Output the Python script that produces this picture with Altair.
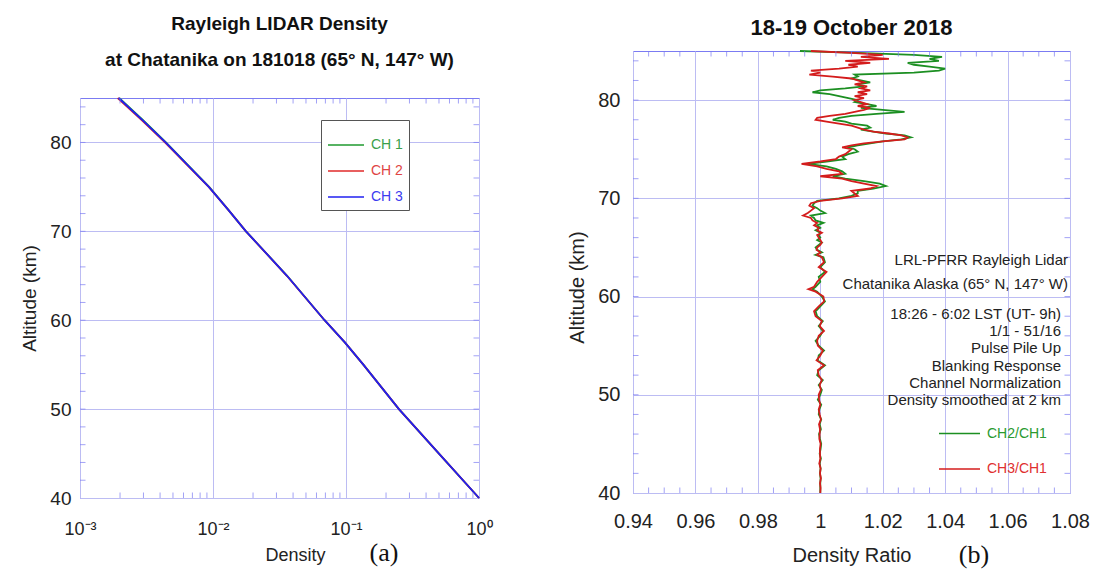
import altair as alt
import pandas as pd

FONT = "Liberation Sans"
FRAME = "#7b7bf2"
GRID = "#bcbcf3"

# ---------------- Panel (a): density profiles ----------------
alt_a = [85, 82.5, 80, 77.5, 75, 72.5, 70, 65, 60, 57.5, 55, 50, 45, 40]
dens_ch1 = [0.00197, 0.00298, 0.00443, 0.00643, 0.00936, 0.0129, 0.0177, 0.0361, 0.0690, 0.0980, 0.135, 0.250, 0.500, 1.0]
dens_ch2 = [0.00192, 0.00291, 0.00435, 0.00635, 0.00928, 0.0129, 0.0177, 0.0359, 0.0690, 0.0980, 0.135, 0.250, 0.500, 1.0]
dens_ch3 = [0.00195, 0.00295, 0.00440, 0.00640, 0.00930, 0.0129, 0.0177, 0.0360, 0.0690, 0.0980, 0.135, 0.250, 0.500, 1.0]
channels_a = ["CH 1", "CH 2", "CH 3"]
line_colors_a = ["#1f9a2f", "#e02a2a", "#2020f0"]
label_colors_a = ["#3b9f4a", "#e04444", "#3c3cf0"]

dens_major = [0.001, 0.01, 0.1, 1]
dens_labels = ["10⁻³", "10⁻²", "10⁻¹", "10⁰"]
dens_minor = [0.002, 0.003, 0.004, 0.005, 0.006, 0.007, 0.008, 0.009,
              0.02, 0.03, 0.04, 0.05, 0.06, 0.07, 0.08, 0.09,
              0.2, 0.3, 0.4, 0.5, 0.6, 0.7, 0.8, 0.9]
alt_major = [40, 50, 60, 70, 80]
alt_minor = [42, 44, 46, 48, 50, 52, 54, 56, 58, 60, 62, 64, 66, 68, 70, 72, 74, 76, 78, 80, 82, 84]

title_a = ["Rayleigh LIDAR Density", "at Chatanika on 181018 (65° N, 147° W)"]
tag_a = "(a)"

# ---------------- Panel (b): density ratios ----------------
alt_b = [85.0, 84.8, 84.6, 84.4, 84.2, 84.0, 83.8, 83.6, 83.4, 83.2, 83.0, 82.8, 82.6, 82.4, 82.2, 82.0,
         81.8, 81.6, 81.4, 81.2, 81.0, 80.8, 80.6, 80.4, 80.2, 80.0, 79.8, 79.6, 79.4, 79.2, 79.0, 78.8,
         78.6, 78.4, 78.2, 78.0, 77.8, 77.6, 77.4, 77.2, 77.0, 76.8, 76.6, 76.4, 76.2, 76.0, 75.8, 75.6,
         75.4, 75.2, 75.0, 74.75, 74.5, 74.25, 74.0, 73.75, 73.5, 73.25, 73.0, 72.75, 72.5, 72.25, 72.0,
         71.75, 71.5, 71.25, 71.0, 70.75, 70.5, 70.25, 70.0, 69.75, 69.5, 69.25, 69.0, 68.75, 68.5, 68.25,
         68.0, 67.75, 67.5, 67.25, 67.0, 66.75, 66.5, 66.25, 66.0, 65.75, 65.5, 65.25, 65.0, 64.75, 64.5,
         64.25, 64.0, 63.5, 63.0, 62.5, 62.0, 61.5, 61.0, 60.75, 60.5, 60.0, 59.5, 59.0, 58.5, 58.0, 57.5,
         57.0, 56.5, 56.0, 55.5, 55.0, 54.5, 54.0, 53.5, 53.0, 52.5, 52.0, 51.5, 51.0, 50.5, 50.0, 49.5,
         49.0, 48.5, 48.0, 47.5, 47.0, 46.5, 46.0, 45.5, 45.0, 44.5, 44.0, 43.5, 43.0, 42.5, 42.0, 41.5,
         41.0, 40.5, 40.0]
ratio_ch2 = [0.9935, 1.012, 1.030, 1.039, 1.035, 1.038, 1.028, 1.030, 1.035, 1.040, 1.038, 1.030, 1.011, 1.012, 1.010, 1.013,
             1.016, 1.012, 1.014, 1.008, 1.000, 0.9975, 1.003, 1.006, 1.009, 1.012, 1.011, 1.015, 1.018, 1.013, 1.020, 1.027,
             1.018, 1.010, 1.006, 1.004, 1.008, 1.010, 1.015, 1.016, 1.013, 1.017, 1.021, 1.027, 1.029, 1.026, 1.020, 1.016,
             1.012, 1.009, 1.011, 1.012, 1.009, 1.007, 1.008, 1.002, 0.996, 1.002, 1.005, 1.007, 1.008, 1.004, 1.008,
             1.014, 1.019, 1.021, 1.017, 1.012, 1.012, 1.010, 1.006, 0.999, 0.998, 0.9975, 0.999, 1.000, 1.0015, 0.997,
             0.998, 0.9985, 1.001, 0.999, 1.000, 0.9985, 1.000, 0.9995, 1.000, 0.999, 1.0005, 0.9995, 0.9985, 0.999, 1.0005,
             0.9985, 1.001, 1.0015, 1.000, 1.0015, 0.9995, 1.000, 0.9985, 0.9975, 0.999, 1.0005, 1.0015, 1.000, 0.9985, 0.999, 1.0008,
             0.9995, 1.0008, 1.000, 0.9985, 0.9995, 1.0012, 0.9995, 0.9992, 1.0015, 0.9995, 0.999, 1.0008, 0.9995, 1.0005, 1.000, 0.9992,
             1.0003, 0.9997, 0.9995, 1.0003, 0.9998, 1.0002, 0.9996, 0.9999, 1.0003, 1.0001, 0.9998, 1.0002, 0.9998, 1.0001, 0.9999, 1.0001,
             1.000, 1.000, 1.000]
ratio_ch3 = [0.997, 1.010, 1.020, 1.013, 1.022, 1.008, 1.016, 1.009, 1.012, 1.006, 0.997, 1.000, 0.9965, 1.004, 1.010, 1.012,
             1.014, 1.011, 1.015, 1.013, 1.016, 1.012, 1.015, 1.011, 1.014, 1.011, 1.013, 1.015, 1.012, 1.016, 1.014, 1.011,
             1.008, 1.003, 0.999, 0.9985, 1.002, 1.006, 1.010, 1.012, 1.014, 1.017, 1.022, 1.026, 1.028, 1.027, 1.020, 1.014,
             1.010, 1.007, 1.010, 1.009, 1.008, 1.006, 1.005, 1.000, 0.994, 0.999, 1.002, 1.006, 1.007, 1.000, 1.007,
             1.010, 1.014, 1.018, 1.016, 1.010, 1.011, 1.012, 1.007, 1.000, 0.997, 0.9965, 0.998, 0.997, 0.996, 0.9945,
             0.997, 0.9975, 0.999, 0.998, 0.9995, 0.999, 1.0005, 0.999, 0.9995, 1.000, 1.0005, 1.000, 0.999, 0.9988, 1.000,
             0.999, 1.0005, 1.0012, 0.9995, 1.002, 1.0005, 0.999, 0.998, 0.9962, 0.9985, 1.001, 1.0012, 0.9995, 0.998, 0.9985, 1.0005,
             0.9998, 1.0012, 0.9995, 0.999, 0.9992, 1.0008, 1.000, 0.9988, 1.0012, 0.9992, 0.9995, 1.0005, 0.9998, 1.0002, 0.9995, 0.9996,
             1.000, 0.9995, 0.9998, 1.0002, 0.9996, 0.9999, 0.9998, 0.9997, 1.0001, 0.9999, 0.9999, 1.000, 0.9997, 1.0001, 0.9999, 1.0002,
             0.9999, 1.0001, 1.000]
series_b = ["CH2/CH1", "CH3/CH1"]
line_colors_b = ["#1c8f22", "#d41c1c"]
label_colors_b = ["#2a9a30", "#e03030"]

ratio_major = [0.94, 0.96, 0.98, 1.0, 1.02, 1.04, 1.06, 1.08]
ratio_labels = ["0.94", "0.96", "0.98", "1", "1.02", "1.04", "1.06", "1.08"]
ratio_minor = [0.945, 0.95, 0.955, 0.965, 0.97, 0.975, 0.985, 0.99, 0.995, 1.005, 1.01, 1.015,
               1.025, 1.03, 1.035, 1.045, 1.05, 1.055, 1.065, 1.07, 1.075]

title_b = "18-19 October 2018"
notes_top = ["LRL-PFRR Rayleigh Lidar", "Chatanika Alaska (65° N, 147° W)"]
notes_bottom = ["18:26 - 6:02 LST (UT- 9h)", "1/1 - 51/16", "Pulse Pile Up", "Blanking Response",
                "Channel Normalization", "Density smoothed at 2 km"]
tag_b = "(b)"


def label_expr(values, labels):
    expr = "''"
    for v, lab in reversed(list(zip(values, labels))):
        expr = f"abs(datum.value / {v} - 1) < 0.001 ? '{lab}' : ({expr})"
    return expr


def color_expr(names, colors):
    expr = "'#333333'"
    for n, c in reversed(list(zip(names, colors))):
        expr = f"datum.label == '{n}' ? '{c}' : ({expr})"
    return expr


# ---------- build tables ----------
rows = []
for ch, vals in zip(channels_a, [dens_ch1, dens_ch2, dens_ch3]):
    for a, d in zip(alt_a, vals):
        rows.append({"Altitude": a, "Density": d, "Channel": ch})
df_a = pd.DataFrame(rows)

rows = []
for s, vals in zip(series_b, [ratio_ch2, ratio_ch3]):
    for a, r in zip(alt_b, vals):
        rows.append({"Altitude": a, "Ratio": r, "Series": s})
df_b = pd.DataFrame(rows)


def inner_ticks(values, field, scale, channel, W, H):
    """Minor ticks drawn inward from the frame on both opposite edges (same field as the main axis)."""
    df = pd.DataFrame({field: values})
    if channel == "x":
        base = alt.Chart(df).mark_tick(orient="vertical", clip=True, size=11, thickness=1, color=FRAME)
        enc = alt.X(f"{field}:Q", scale=scale)
        return [base.encode(x=enc, y=alt.value(H)), base.encode(x=enc, y=alt.value(0))]
    base = alt.Chart(df).mark_tick(orient="horizontal", clip=True, size=11, thickness=1, color=FRAME)
    enc = alt.Y(f"{field}:Q", scale=scale)
    return [base.encode(y=enc, x=alt.value(0)), base.encode(y=enc, x=alt.value(W))]


# ---------- panel (a) ----------
W_A, H_A = 399, 400
HEAD_A = 41
xs_a = alt.Scale(type="log", domain=[0.001, 1], nice=False)
ys = alt.Scale(domain=[40, 85], nice=False, zero=False)

lines_a = alt.Chart(df_a).mark_line(strokeWidth=1.8).encode(
    x=alt.X("Density:Q", scale=xs_a, axis=alt.Axis(
        orient="bottom", values=dens_major, labelExpr=label_expr(dens_major, dens_labels),
        labelFlush=False, labelOverlap=False,
        grid=True, ticks=False, domain=False, title="Density", labelFontSize=18,
        labelPadding=22, titleFontSize=18, titlePadding=8, titleX=215)),
    y=alt.Y("Altitude:Q", scale=ys, axis=alt.Axis(
        orient="left", values=alt_major, grid=True, ticks=False, domain=False,
        labelFlush=False, labelOverlap=False,
        title="Altitude (km)", labelFontSize=19, labelPadding=9, titleFontSize=19, titlePadding=10)),
    color=alt.Color("Channel:N", sort=channels_a,
                    scale=alt.Scale(domain=channels_a, range=line_colors_a),
                    legend=alt.Legend(orient="none", legendX=241, legendY=69, title=None,
                                      symbolType="stroke", symbolSize=1300, symbolStrokeWidth=1.6,
                                      labelFontSize=14, labelFont=FONT,
                                      labelColor=alt.ExprRef(expr=color_expr(channels_a, label_colors_a)),
                                      strokeColor="#555555", fillColor="white", padding=6,
                                      rowPadding=0, labelOffset=6)),
    order=alt.Order("Altitude:Q"),
)

tag_a_layer = alt.Chart(pd.DataFrame({"t": [tag_a]})).mark_text(
    font="Liberation Serif", fontSize=26, align="center", baseline="middle", color="#111"
).encode(text="t:N", x=alt.value(304), y=alt.value(455))

panel_a = alt.layer(
    lines_a,
    *inner_ticks(dens_minor, "Density", xs_a, "x", W_A, H_A),
    *inner_ticks(alt_minor, "Altitude", ys, "y", W_A, H_A),
    tag_a_layer,
).properties(width=W_A, height=H_A)

# heading block of panel (a): first line as title, second line as text
head_a = alt.Chart(pd.DataFrame({"t": [title_a[1]]})).mark_text(
    font=FONT, fontSize=19, fontWeight="bold", align="center", baseline="middle", color="#111"
).encode(text="t:N", x=alt.value(W_A / 2), y=alt.value(9)).properties(
    width=W_A, height=HEAD_A,
    view=alt.ViewBackground(stroke="transparent"),
    title=alt.TitleParams(text=title_a[0], fontSize=19, fontWeight="bold", font=FONT,
                          offset=17, anchor="middle"),
)

left_cell = alt.vconcat(head_a, panel_a, spacing=0)

# ---------- panel (b) ----------
W_B, H_B = 437, 442
xs_b = alt.Scale(domain=[0.94, 1.08], nice=False, zero=False)

lines_b = alt.Chart(df_b).mark_line(strokeWidth=1.8).encode(
    x=alt.X("Ratio:Q", scale=xs_b, axis=alt.Axis(
        orient="bottom", values=ratio_major, labelExpr=label_expr(ratio_major, ratio_labels),
        labelFlush=False, labelOverlap=False,
        grid=True, ticks=False, domain=False, title="Density Ratio", labelFontSize=20,
        labelPadding=18, titleFontSize=20, titlePadding=14)),
    y=alt.Y("Altitude:Q", scale=ys, axis=alt.Axis(
        orient="left", values=alt_major, grid=True, ticks=False, domain=False,
        labelFlush=False, labelOverlap=False,
        title="Altitude (km)", labelFontSize=20, labelPadding=13, titleFontSize=20, titlePadding=10,
        titleY=236)),
    color=alt.Color("Series:N", sort=series_b,
                    scale=alt.Scale(domain=series_b, range=line_colors_b),
                    legend=alt.Legend(orient="none", legendX=305, legendY=361, title=None,
                                      symbolType="stroke", symbolSize=1681, symbolStrokeWidth=1.6,
                                      labelFontSize=14, labelFont=FONT,
                                      labelColor=alt.ExprRef(expr=color_expr(series_b, label_colors_b)),
                                      padding=0, rowPadding=6.5, labelOffset=6)),
    order=alt.Order("Altitude:Q"),
)

notes_top_layer = alt.Chart(pd.DataFrame({"t": ["\n".join(notes_top)]})).mark_text(
    font=FONT, fontSize=15, align="right", baseline="alphabetic", lineBreak="\n",
    lineHeight=24, color="#222"
).encode(text="t:N", x=alt.value(435), y=alt.value(214))

notes_bottom_layer = alt.Chart(pd.DataFrame({"t": ["\n".join(notes_bottom)]})).mark_text(
    font=FONT, fontSize=15, align="right", baseline="alphabetic", lineBreak="\n",
    lineHeight=17.2, color="#222"
).encode(text="t:N", x=alt.value(428), y=alt.value(268))

tag_b_layer = alt.Chart(pd.DataFrame({"t": [tag_b]})).mark_text(
    font="Liberation Serif", fontSize=26, align="center", baseline="middle", color="#111"
).encode(text="t:N", x=alt.value(341), y=alt.value(504))

panel_b = alt.layer(
    lines_b,
    *inner_ticks(ratio_minor, "Ratio", xs_b, "x", W_B, H_B),
    *inner_ticks(alt_minor, "Altitude", ys, "y", W_B, H_B),
    notes_top_layer, notes_bottom_layer, tag_b_layer,
).properties(
    width=W_B, height=H_B,
    title=alt.TitleParams(text=title_b, fontSize=22, fontWeight="bold", font=FONT,
                          offset=7, anchor="middle"),
)

chart = alt.hconcat(left_cell, panel_b, spacing=74).resolve_scale(
    color="independent"
).configure_view(
    stroke=FRAME, strokeWidth=1
).configure_axis(
    gridColor=GRID, gridWidth=1, gridOpacity=1, labelFont=FONT, titleFont=FONT,
    labelColor="#222222", titleColor="#222222", titleFontWeight="normal"
).configure_title(
    color="#111111"
).properties(
    padding={"left": 12, "top": 6, "right": 0, "bottom": 0}
)

chart.save("out.html", embed_options={"renderer": "svg", "actions": False})
